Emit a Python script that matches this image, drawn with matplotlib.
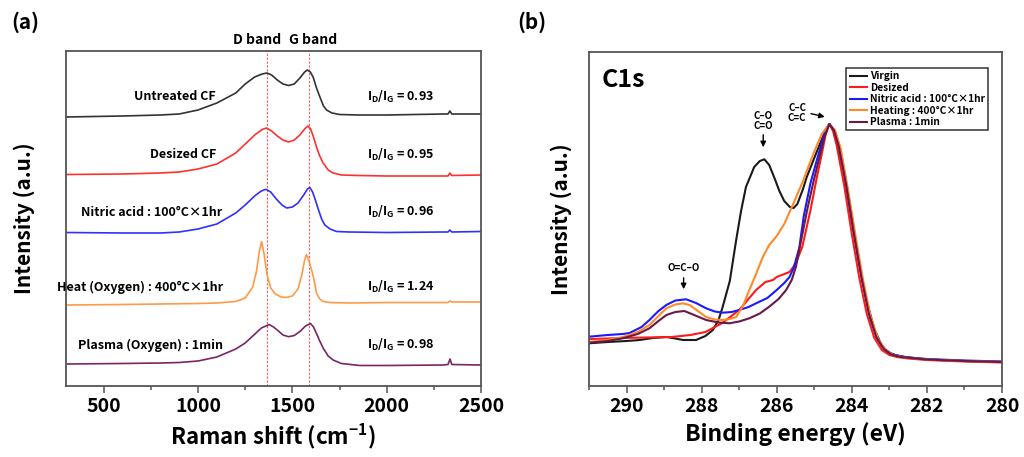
import matplotlib

matplotlib.use("Agg")
import matplotlib.pyplot as plt
from matplotlib.ticker import MultipleLocator

plt.rcParams["font.family"] = ["Noto Sans CJK KR", "DejaVu Sans"]
plt.rcParams["font.weight"] = "bold"
plt.rcParams["axes.labelweight"] = "bold"
plt.rcParams["mathtext.default"] = "regular"

# ---- (a) Raman spectra, stacked (arbitrary offset units) ----
raman_untreated_x = [300, 600, 800, 900, 1000, 1100, 1200, 1250, 1300, 1340, 1365, 1390, 1420, 1450,
                     1480, 1510, 1540, 1565, 1580, 1595, 1610, 1628, 1646, 1665, 1681, 1710, 1750,
                     1850, 2000, 2300, 2325, 2335, 2345, 2500]
raman_untreated_y = [269, 270, 271, 272, 276, 283, 293, 302, 309, 312, 313, 311, 306, 302,
                     300.5, 302, 308, 314, 316, 314, 309, 298, 289, 280, 276, 273, 271.5,
                     271, 271, 272, 272, 275, 272, 272]

raman_desized_x = [300, 600, 800, 900, 1000, 1100, 1200, 1250, 1300, 1340, 1362, 1390, 1420, 1450,
                   1480, 1510, 1540, 1565, 1582, 1597, 1612, 1628, 1645, 1663, 1690, 1716, 1760,
                   1850, 2000, 2300, 2325, 2335, 2345, 2500]
raman_desized_y = [211.5, 212, 213, 214, 217, 222, 233, 242, 251, 256.5, 258, 255, 250, 246,
                   244, 246, 251, 257, 260, 257, 249, 239, 230, 223, 216, 213, 211,
                   210.5, 210, 210, 210, 213, 210.5, 211]

raman_nitric_x = [300, 600, 800, 900, 1000, 1100, 1200, 1250, 1300, 1335, 1360, 1385, 1415, 1445,
                  1470, 1500, 1530, 1560, 1580, 1593, 1607, 1622, 1637, 1655, 1672, 1700, 1734,
                  1800, 2000, 2300, 2325, 2335, 2345, 2500]
raman_nitric_y = [153.5, 153, 153, 154, 157, 162, 173, 181, 190, 195, 196.7, 194, 187, 181,
                  178, 179, 183, 191, 197, 198.5, 194, 186, 177, 167, 161, 157, 154.5,
                  154, 153.5, 154, 154, 156, 154, 154.5]

raman_heat_x = [300, 600, 800, 1000, 1100, 1200, 1250, 1290, 1310, 1325, 1337, 1350, 1365, 1385,
                1410, 1440, 1465, 1500, 1530, 1550, 1565, 1575, 1590, 1605, 1615, 1628, 1645,
                1663, 1700, 1800, 2000, 2300, 2325, 2335, 2345, 2500]
raman_heat_y = [81, 81.5, 82, 82.5, 83, 84.5, 88, 99, 115, 135, 144.3, 132, 112, 98,
                92, 89, 88.5, 90, 97, 111, 126, 131.5, 124, 114, 106, 93, 87,
                84.5, 83.5, 83, 83.5, 83.5, 83.5, 85, 84, 84]

raman_plasma_x = [300, 600, 800, 900, 1000, 1100, 1200, 1250, 1290, 1336, 1377, 1400, 1423, 1450,
                  1480, 1510, 1540, 1570, 1596, 1612, 1628, 1645, 1663, 1690, 1716, 1760, 1858,
                  2000, 2300, 2325, 2336, 2345, 2500]
raman_plasma_y = [22, 22.5, 23, 23.5, 25, 29, 37, 43, 50, 58, 61.5, 59, 55.5, 51,
                  49.3, 50.5, 54.5, 60, 62.5, 59, 52.5, 45, 38, 30, 26, 22.5, 20.5,
                  20.5, 21, 21.5, 27, 21.5, 21]

raman_names = ["Untreated CF", "Desized CF", "Nitric acid : 100°C×1hr",
               "Heat (Oxygen) : 400°C×1hr", "Plasma (Oxygen) : 1min"]
raman_ratios = ["0.93", "0.95", "0.96", "1.24", "0.98"]
raman_colors = ["#333333", "#ff3030", "#3030ff", "#ff9a48", "#7a2662"]
d_band, g_band = 1365, 1587

# ---- (b) XPS C1s ----
xps_virgin_x = [291, 290.5, 290, 289.65, 289.3, 288.94, 288.7, 288.5, 288.15, 287.9, 287.7, 287.55,
                287.44, 287.25, 287.08, 286.95, 286.82, 286.6, 286.45, 286.33, 286.2, 286.05,
                285.93, 285.8, 285.65, 285.55, 285.45, 285.3, 285.2, 285.0, 284.84, 284.7, 284.6,
                284.5, 284.4, 284.2, 284.0, 283.8, 283.6, 283.4, 283.2, 283.0, 282.8, 282.5, 282,
                281, 280]
xps_virgin_y = [42.7, 44, 45, 46, 48, 49, 47.5, 46, 46, 50, 56, 66,
                79, 105, 146, 175, 199, 219, 225, 226.7, 221, 207,
                195, 185, 179, 178, 182, 197, 209, 228, 243, 256, 262,
                257, 247, 212, 165, 121, 84, 57, 40, 33, 30.5, 28.5, 26.5,
                25, 24]

xps_desized_x = [291, 290.5, 290.1, 289.5, 288.8, 288.3, 287.9, 287.45, 287.0, 286.55, 286.3, 286.1,
                 286.0, 285.66, 285.5, 285.32, 285.1, 284.93, 284.8, 284.7, 284.6, 284.5, 284.4,
                 284.2, 284.0, 283.8, 283.6, 283.4, 283.2, 283.0, 282.8, 282.5, 282, 281, 280]
xps_desized_y = [47, 47.5, 48, 48.5, 49, 51, 54, 63, 76, 96, 104, 106,
                 109, 114, 122, 139, 176, 209, 232, 251, 262, 255, 240,
                 200, 152, 108, 72, 48, 36, 31, 29, 27.5, 26, 24.5, 23.5]

xps_nitric_x = [291, 290.5, 290.1, 289.92, 289.6, 289.39, 289.15, 288.94, 288.7, 288.41, 288.15,
                287.88, 287.65, 287.44, 287.2, 287.0, 286.75, 286.55, 286.25, 286.0, 285.8,
                285.66, 285.55, 285.4, 285.28, 285.1, 284.93, 284.75, 284.6, 284.45, 284.3, 284.1,
                283.9, 283.7, 283.5, 283.3, 283.1, 282.9, 282.6, 282, 281, 280]
xps_nitric_y = [49.3, 51, 52, 53, 59, 66, 75, 81, 85.5, 86.7, 83,
                77.7, 74.5, 73.3, 74, 76, 79, 82.7, 88, 96, 103,
                109, 118, 138, 170, 203, 226, 250, 262, 255, 236, 193,
                145, 102, 67, 46, 36, 31.5, 29, 27, 25.5, 24.5]

xps_heating_x = [291, 290.5, 290.1, 289.7, 289.39, 289.15, 288.94, 288.7, 288.5, 288.32, 288.1,
                 287.88, 287.65, 287.44, 287.25, 287.08, 286.9, 286.73, 286.55, 286.37, 286.2,
                 286.0, 285.8, 285.55, 285.3, 285.02, 284.8, 284.6, 284.45, 284.3, 284.1, 283.9,
                 283.7, 283.5, 283.3, 283.1, 282.9, 282.6, 282, 281, 280]
xps_heating_y = [44, 46, 49, 54, 61, 70, 77.7, 81.5, 82.7, 81, 75,
                 69, 66.5, 66, 67, 69, 80, 96, 112, 129, 141,
                 150, 162, 183, 205, 232.7, 252, 262, 256, 238, 196, 150,
                 106, 70, 47, 36, 31, 28.5, 26.5, 25, 24]

xps_plasma_x = [291, 290.5, 290.1, 289.7, 289.39, 289.15, 288.94, 288.7, 288.46, 288.2, 287.88,
                287.55, 287.26, 287.0, 286.73, 286.45, 286.2, 285.95, 285.75, 285.6, 285.49,
                285.38, 285.19, 285.03, 284.88, 284.72, 284.6, 284.48, 284.35, 284.15, 283.95,
                283.75, 283.55, 283.35, 283.15, 282.95, 282.7, 282, 281, 280]
xps_plasma_y = [43.3, 45, 47.7, 52, 57.7, 65, 71, 74, 75, 71, 66,
                63.5, 62.7, 64.5, 67.7, 72.5, 79.3, 87, 96, 106, 119,
                140, 176, 203, 226, 250, 262, 256, 240, 201, 154,
                110, 73, 49, 37, 31.5, 29, 26.5, 25, 24]

xps_names = ["Virgin", "Desized", "Nitric acid : 100°C×1hr", "Heating : 400°C×1hr", "Plasma : 1min"]
xps_colors = ["#1a1a1a", "#ff1a1a", "#1a1aff", "#ff8a2a", "#6a1848"]

SPINE = "#555555"


def style_axes(ax):
    for sp in ax.spines.values():
        sp.set_color(SPINE)
        sp.set_linewidth(1.3)
    ax.set_yticks([])
    ax.tick_params(axis="x", which="both", direction="out", color=SPINE, width=1.1,
                   labelsize=14, pad=3)
    ax.tick_params(axis="x", which="major", length=5)
    ax.tick_params(axis="x", which="minor", length=3)


fig = plt.figure(figsize=(10.24, 4.57), dpi=100)
ax_a = fig.add_axes([66 / 1024, 71 / 457, 415 / 1024, 335 / 457])
ax_b = fig.add_axes([589 / 1024, 71 / 457, 413 / 1024, 334 / 457])

# panel (a)
raman_x = [raman_untreated_x, raman_desized_x, raman_nitric_x, raman_heat_x, raman_plasma_x]
raman_y = [raman_untreated_y, raman_desized_y, raman_nitric_y, raman_heat_y, raman_plasma_y]
label_y = [289, 231, 174, 99, 41]
label_right = [1094, 1094, 1126, 1131, 1131]
for xs, ys, c, name, ratio, ly, lx in zip(raman_x, raman_y, raman_colors, raman_names,
                                          raman_ratios, label_y, label_right):
    ax_a.plot(xs, ys, color=c, lw=1.2)
    ax_a.text(lx, ly, name, ha="right", va="center", fontsize=9)
    ax_a.text(1895, ly, r"I$_D$/I$_G$ = " + ratio, ha="left", va="center", fontsize=9)
for xb in (d_band, g_band):
    ax_a.axvline(xb, color="#ff5a5a", lw=0.8, ls=(0, (2, 1.5)), zorder=0)
ax_a.text(1312, 1.033, "D band", transform=ax_a.get_xaxis_transform(), ha="center",
          va="center", fontsize=10)
ax_a.text(1609, 1.033, "G band", transform=ax_a.get_xaxis_transform(), ha="center",
          va="center", fontsize=10)
ax_a.set_xlim(300, 2500)
ax_a.set_ylim(0, 335)
ax_a.xaxis.set_major_locator(MultipleLocator(500))
ax_a.xaxis.set_minor_locator(MultipleLocator(250))
style_axes(ax_a)
ax_a.set_xlabel(r"Raman shift (cm$^{-1}$)", fontsize=16, labelpad=4)
ax_a.set_ylabel("Intensity (a.u.)", fontsize=15, labelpad=22)

# panel (b)
xps_x = [xps_virgin_x, xps_desized_x, xps_nitric_x, xps_heating_x, xps_plasma_x]
xps_y = [xps_virgin_y, xps_desized_y, xps_nitric_y, xps_heating_y, xps_plasma_y]
for xs, ys, c, name in zip(xps_x, xps_y, xps_colors, xps_names):
    ax_b.plot(xs, ys, color=c, lw=1.5, label=name)
ax_b.set_xlim(291, 280)
ax_b.set_ylim(0, 334)
ax_b.xaxis.set_major_locator(MultipleLocator(2))
ax_b.xaxis.set_minor_locator(MultipleLocator(1))
style_axes(ax_b)
ax_b.set_xlabel("Binding energy (eV)", fontsize=16.5, labelpad=4)
ax_b.set_ylabel("Intensity (a.u.)", fontsize=15, labelpad=12)
ax_b.text(0.031, 0.916, "C1s", transform=ax_b.transAxes, fontsize=18, va="center")

arrow = dict(arrowstyle="-|>", color="black", lw=1.0, mutation_scale=8)
ax_b.text(286.36, 265, "C–O\nC=O", ha="center", va="center", fontsize=7, linespacing=0.95)
ax_b.annotate("", xy=(286.36, 236), xytext=(286.36, 254), arrowprops=arrow)
ax_b.text(285.46, 273, "C–C\nC=C", ha="center", va="center", fontsize=7, linespacing=0.95)
ax_b.annotate("", xy=(284.65, 268.5), xytext=(285.16, 273), arrowprops=arrow)
ax_b.text(288.48, 118, "O=C–O", ha="center", va="center", fontsize=7)
ax_b.annotate("", xy=(288.48, 94), xytext=(288.48, 111), arrowprops=arrow)

leg = ax_b.legend(loc="upper right", bbox_to_anchor=(0.978, 0.967), fontsize=7.3,
                  handlelength=1.7, handletextpad=0.3, labelspacing=0.15, borderpad=0.3,
                  fancybox=False, framealpha=1, edgecolor="#333333")
leg.get_frame().set_linewidth(1.1)

fig.text(25 / 1024, 1 - 22 / 457, "(a)", ha="center", va="center", fontsize=15)
fig.text(532 / 1024, 1 - 22 / 457, "(b)", ha="center", va="center", fontsize=15)

fig.savefig("out.png", dpi=100)
